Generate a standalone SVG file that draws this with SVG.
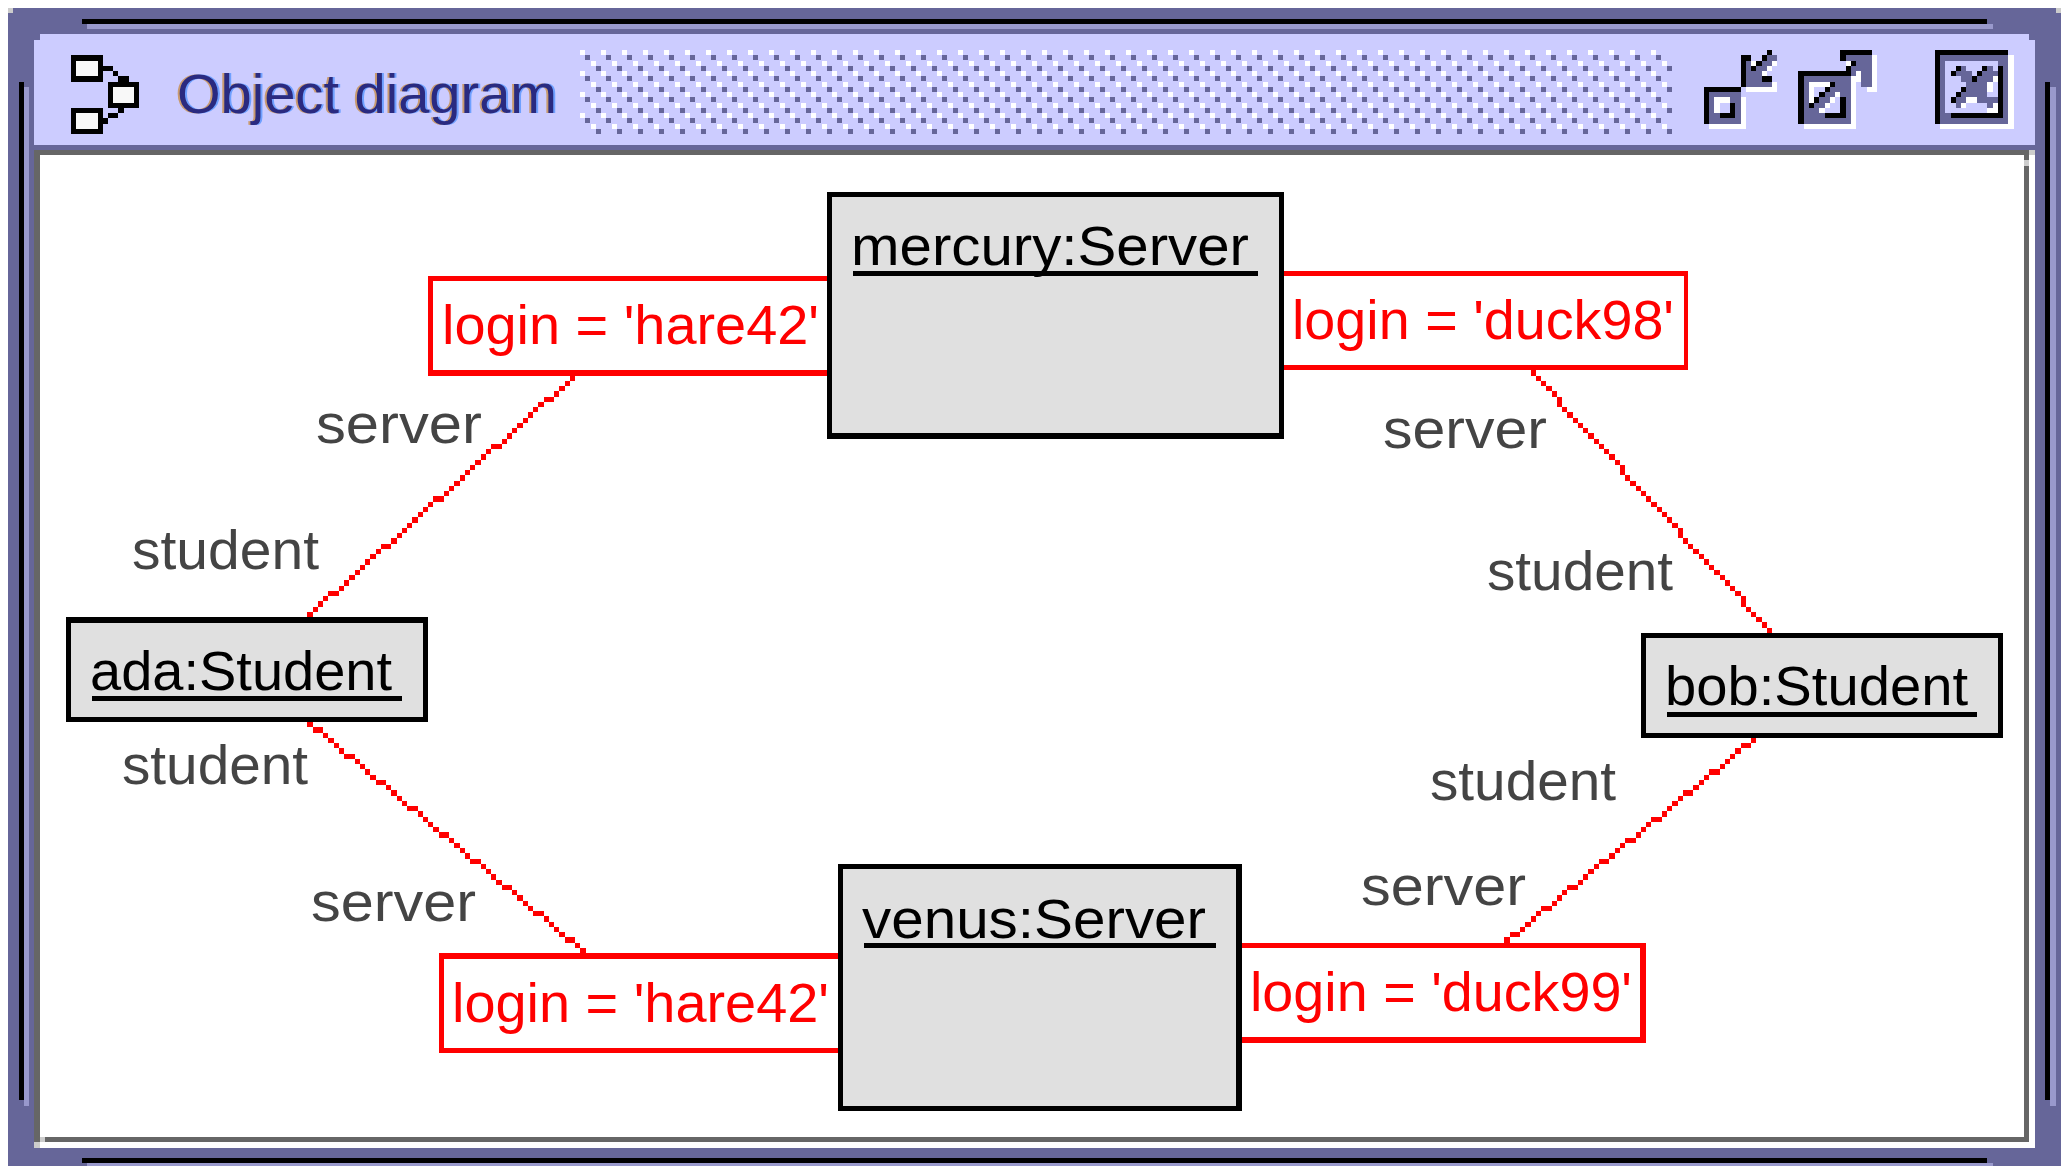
<svg xmlns="http://www.w3.org/2000/svg" width="2062" height="1166" viewBox="0 0 2062 1166">
<style>
rect,.px,.con{shape-rendering:crispEdges}
text{font-family:"Liberation Sans",Arial,sans-serif;font-size:56px}
.t-name{fill:#000}.t-attr{fill:#f00}.t-role{fill:#444}.t-title{fill:#2a2a80;filter:url(#fringe)}
.obj{fill:#000}.objin{fill:#e0e0e0}.attr{fill:#f00}.attrin{fill:#fff}.ul{fill:#000}
.P{fill:#666699}.L{fill:#9999cc}.C{fill:#ccccff}.G{fill:#666}.Y{fill:#ccc}.W{fill:#fff}.K{fill:#000}.F{fill:#f8f8f8}
.con{fill:none;stroke:#f00;stroke-width:1}
</style>
<defs>
<pattern id="dither" patternUnits="userSpaceOnUse" x="580" y="50" width="21" height="21">
<rect class="W" x="0" y="0" width="5" height="5"/><rect class="P" x="5" y="5" width="5" height="5"/>
<rect class="W" x="11" y="11" width="5" height="5"/><rect class="P" x="16" y="16" width="5" height="5"/>
</pattern>
<filter id="fringe" x="-5%" y="-20%" width="110%" height="140%" color-interpolation-filters="sRGB">
<feFlood flood-color="#c89a70" result="tan"/>
<feOffset in="SourceAlpha" dx="-2" result="a1"/>
<feComposite in="tan" in2="a1" operator="in" result="left"/>
<feFlood flood-color="#6fa0ff" result="blue"/>
<feOffset in="SourceAlpha" dx="2" result="a2"/>
<feComposite in="blue" in2="a2" operator="in" result="right"/>
<feMerge><feMergeNode in="left"/><feMergeNode in="right"/><feMergeNode in="SourceGraphic"/></feMerge>
</filter>
</defs>
<rect width="2062" height="1166" fill="#fff"/>
<g id="window-frame">
<rect class="P" x="8" y="8" width="2053" height="1158"/>
<rect class="Y" x="8" y="8" width="5" height="5"/><rect class="Y" x="2056" y="8" width="5" height="5"/>
<rect class="K" x="82" y="19" width="1905" height="5"/><rect class="L" x="87" y="24" width="1906" height="5"/>
<rect class="K" x="82" y="1158" width="1905" height="5"/><rect class="L" x="87" y="1163" width="1906" height="3"/>
<rect class="K" x="19" y="82" width="5" height="1018"/><rect class="L" x="24" y="87" width="5" height="1019"/>
<rect class="K" x="2045" y="82" width="5" height="1018"/><rect class="L" x="2050" y="87" width="6" height="1019"/>
<rect class="C" x="40" y="34" width="1989" height="6"/><rect class="C" x="34" y="40" width="2001" height="105"/>
<rect class="W" x="34" y="150" width="2001" height="998"/>
<rect class="G" x="34" y="150" width="1995" height="5"/><rect class="G" x="34" y="150" width="6" height="992"/>
<rect class="G" x="2024" y="150" width="5" height="992"/><rect class="G" x="45" y="1137" width="1984" height="5"/>
<rect class="Y" x="40" y="1137" width="5" height="5"/><rect class="Y" x="34" y="1142" width="6" height="6"/>
<rect class="Y" x="2029" y="150" width="6" height="5"/><rect class="Y" x="2024" y="160" width="5" height="6"/>
</g>
<g id="title-bar">
<g id="diagram-icon">
<rect class="K" x="71" y="55" width="32" height="27"/><rect class="F" x="76" y="61" width="22" height="15"/>
<rect class="K" x="108" y="82" width="31" height="26"/><rect class="F" x="113" y="87" width="21" height="16"/>
<rect class="K" x="71" y="108" width="32" height="26"/><rect class="F" x="76" y="113" width="22" height="16"/>
<rect class="K" x="103" y="66" width="10" height="5"/><rect class="K" x="113" y="71" width="5" height="5"/><rect class="K" x="118" y="76" width="11" height="6"/>
<rect class="K" x="118" y="108" width="6" height="5"/><rect class="K" x="108" y="113" width="10" height="5"/><rect class="K" x="103" y="118" width="5" height="6"/>
</g>
<text class="t-title" x="177" y="113" textLength="380" lengthAdjust="spacingAndGlyphs">Object diagram</text>
<rect x="580" y="50" width="1092" height="84" fill="url(#dither)"/>
<g id="window-buttons" class="px" transform="translate(8 8) scale(5.25) translate(323 0)">
<path class="P" d="M1 16h6v6h-6zM12 9h2v1h-2zM8 10h1v5h-1zM11 10h2v1h-2zM10 11h2v1h-2zM9 12h2v3h-2zM11 14h2v1h-2z"/>
<path class="C" d="M3 18h2v2h-2z"/>
<path class="W" d="M7 17h1v6h-1zM1 22h7v1h-7zM2 17h3v1h-3zM2 18h1v2h-1zM9 10h1v1h-1zM13 10h1v1h-1zM12 11h1v1h-1zM11 12h1v1h-1zM13 14h1v2h-1zM8 15h6v1h-6z"/>
<path class="K" d="M12 8h1v1h-1zM7 9h2v1h-2zM11 9h1v1h-1zM10 10h1v1h-1zM9 11h1v1h-1zM7 10h1v5h-1zM11 13h2v1h-2zM0 15h7v1h-7zM0 16h1v6h-1zM5 18h1v3h-1zM3 20h2v1h-2z"/>
<path class="P" d="M19 13h9v9h-9zM27 9h5v1h-5zM29 10h3v1h-3zM28 11h4v1h-4zM28 12h1v1h-1zM30 12h2v3h-2z"/>
<path class="C" d="M21 15h2v1h-2zM21 16h1v1h-1zM25 17h1v3h-1zM24 18h1v2h-1zM23 19h1v1h-1z"/>
<path class="W" d="M32 9h1v7h-1zM31 15h1v1h-1zM29 12h1v2h-1zM27 10h1v1h-1zM28 13h1v10h-1zM19 22h9v1h-9zM20 14h4v1h-4zM20 15h1v3h-1zM25 16h1v1h-1zM24 17h1v1h-1zM23 18h1v1h-1zM22 19h1v1h-1z"/>
<path class="K" d="M26 8h6v1h-6zM26 9h1v1h-1zM28 10h1v1h-1zM27 11h1v1h-1zM18 12h10v1h-10zM18 13h1v9h-1zM24 14h1v1h-1zM23 15h1v1h-1zM22 16h1v1h-1zM21 17h1v1h-1zM20 18h1v1h-1zM26 17h1v4h-1zM23 20h3v1h-3z"/>
<path class="P" d="M45 9h13v13h-13z"/>
<path class="C" d="M46 10h10v10h-10z"/>
<path class="P" d="M49 11h1v1h-1zM54 11h1v1h-1zM48 12h3v1h-3zM53 12h3v1h-3zM49 13h2v1h-2zM52 13h3v1h-3zM50 14h4v2h-4zM49 16h5v1h-5zM48 17h2v1h-2zM52 17h4v1h-4zM48 18h1v1h-1zM54 18h1v1h-1z"/>
<path class="W" d="M58 9h1v14h-1zM45 22h14v1h-14zM55 13h1v1h-1zM54 14h1v2h-1zM50 17h2v1h-2zM49 18h1v1h-1zM55 18h1v1h-1zM54 19h2v1h-2z"/>
<path class="K" d="M44 8h14v1h-14zM44 9h1v13h-1zM56 11h1v10h-1zM47 20h10v1h-10zM48 11h1v1h-1zM47 12h1v1h-1zM53 11h1v1h-1zM52 12h1v1h-1zM51 13h1v1h-1zM49 15h1v1h-1zM48 16h1v1h-1zM47 17h1v1h-1z"/>
</g>
</g>
<g id="connectors" transform="translate(8 8) scale(5.25)">
<path class="con" d="M108 70.5h-1m0 1h-1m0 1h-1m0 1h-1m0 1h-2m0 1h-1m0 1h-1m0 1h-1m0 1h-1m0 1h-1m0 1h-1m0 1h-1m0 1h-1m0 1h-2m0 1h-1m0 1h-1m0 1h-1m0 1h-1m0 1h-1m0 1h-1m0 1h-1m0 1h-1m0 1h-1m0 1h-2m0 1h-1m0 1h-1m0 1h-1m0 1h-1m0 1h-1m0 1h-1m0 1h-1m0 1h-1m0 1h-2m0 1h-1m0 1h-1m0 1h-1m0 1h-1m0 1h-1m0 1h-1m0 1h-1m0 1h-1m0 1h-2m0 1h-1m0 1h-1m0 1h-1m0 1h-1"/>
<path class="con" d="M290 69.5h1m0 1h1m0 1h1m0 1h1m0 1h1m0 1h1m-1 1h1m0 1h1m0 1h1m0 1h1m0 1h1m0 1h1m0 1h1m0 1h1m0 1h1m0 1h1m0 1h1m0 1h1m0 1h1m-1 1h1m0 1h1m0 1h1m0 1h1m0 1h1m0 1h1m0 1h1m0 1h1m0 1h1m0 1h1m0 1h1m0 1h1m-1 1h1m0 1h1m0 1h1m0 1h1m0 1h1m0 1h1m0 1h1m0 1h1m0 1h1m0 1h1m0 1h1m0 1h1m0 1h1m-1 1h1m0 1h1m0 1h1m0 1h1m0 1h1m0 1h1"/>
<path class="con" d="M57 136.5h1m0 1h2m0 1h1m0 1h1m0 1h1m0 1h1m0 1h2m0 1h1m0 1h1m0 1h1m0 1h1m0 1h2m0 1h1m0 1h1m0 1h1m0 1h1m0 1h2m0 1h1m0 1h1m0 1h1m0 1h1m0 1h2m0 1h1m0 1h1m0 1h1m0 1h1m0 1h2m0 1h1m0 1h1m0 1h1m0 1h1m0 1h2m0 1h1m0 1h1m0 1h1m0 1h1m0 1h2m0 1h1m0 1h1m0 1h1m0 1h1m0 1h2m0 1h1m0 1h1"/>
<path class="con" d="M333 139.5h-1m0 1h-2m0 1h-1m0 1h-1m0 1h-1m0 1h-1m0 1h-2m0 1h-1m0 1h-1m0 1h-1m0 1h-2m0 1h-1m0 1h-1m0 1h-1m0 1h-1m0 1h-2m0 1h-1m0 1h-1m0 1h-1m0 1h-2m0 1h-1m0 1h-1m0 1h-1m0 1h-2m0 1h-1m0 1h-1m0 1h-1m0 1h-1m0 1h-2m0 1h-1m0 1h-1m0 1h-1m0 1h-2m0 1h-1m0 1h-1m0 1h-1m0 1h-1m0 1h-2m0 1h-1"/>
</g>
<g id="attr-mercury-left">
<rect class="attr" x="428" y="276" width="404" height="100"/><rect class="attrin" x="433" y="281" width="399" height="89"/>
<text class="t-attr" x="442" y="344" textLength="377" lengthAdjust="spacingAndGlyphs">login = 'hare42'</text>
</g>
<g id="attr-mercury-right">
<rect class="attr" x="1279" y="271" width="409" height="99"/><rect class="attrin" x="1279" y="276" width="405" height="89"/>
<text class="t-attr" x="1292" y="339" textLength="382" lengthAdjust="spacingAndGlyphs">login = 'duck98'</text>
</g>
<g id="attr-venus-left">
<rect class="attr" x="439" y="953" width="404" height="100"/><rect class="attrin" x="444" y="959" width="399" height="89"/>
<text class="t-attr" x="452" y="1022" textLength="377" lengthAdjust="spacingAndGlyphs">login = 'hare42'</text>
</g>
<g id="attr-venus-right">
<rect class="attr" x="1236" y="943" width="410" height="100"/><rect class="attrin" x="1236" y="948" width="404" height="89"/>
<text class="t-attr" x="1250" y="1011" textLength="382" lengthAdjust="spacingAndGlyphs">login = 'duck99'</text>
</g>
<g id="mercury">
<rect class="obj" x="827" y="192" width="457" height="247"/><rect class="objin" x="832" y="197" width="447" height="236"/>
<text class="t-name" x="851" y="265" textLength="398" lengthAdjust="spacingAndGlyphs">mercury:Server</text>
<rect class="ul" x="853" y="271" width="405" height="5"/>
</g>
<g id="venus">
<rect class="obj" x="838" y="864" width="404" height="247"/><rect class="objin" x="843" y="869" width="393" height="237"/>
<text class="t-name" x="862" y="938" textLength="344" lengthAdjust="spacingAndGlyphs">venus:Server</text>
<rect class="ul" x="864" y="943" width="352" height="5"/>
</g>
<g id="ada">
<rect class="obj" x="66" y="617" width="362" height="105"/><rect class="objin" x="71" y="623" width="352" height="94"/>
<text class="t-name" x="90" y="690" textLength="302" lengthAdjust="spacingAndGlyphs">ada:Student</text>
<rect class="ul" x="92" y="696" width="310" height="5"/>
</g>
<g id="bob">
<rect class="obj" x="1641" y="633" width="362" height="105"/><rect class="objin" x="1646" y="638" width="352" height="95"/>
<text class="t-name" x="1665" y="705" textLength="303" lengthAdjust="spacingAndGlyphs">bob:Student</text>
<rect class="ul" x="1667" y="712" width="310" height="5"/>
</g>
<g id="role-labels">
<text class="t-role" x="316" y="443" textLength="166" lengthAdjust="spacingAndGlyphs">server</text>
<text class="t-role" x="132" y="569" textLength="187" lengthAdjust="spacingAndGlyphs">student</text>
<text class="t-role" x="122" y="784" textLength="186" lengthAdjust="spacingAndGlyphs">student</text>
<text class="t-role" x="311" y="921" textLength="165" lengthAdjust="spacingAndGlyphs">server</text>
<text class="t-role" x="1383" y="448" textLength="164" lengthAdjust="spacingAndGlyphs">server</text>
<text class="t-role" x="1487" y="590" textLength="186" lengthAdjust="spacingAndGlyphs">student</text>
<text class="t-role" x="1430" y="800" textLength="186" lengthAdjust="spacingAndGlyphs">student</text>
<text class="t-role" x="1361" y="905" textLength="165" lengthAdjust="spacingAndGlyphs">server</text>
</g>
</svg>
